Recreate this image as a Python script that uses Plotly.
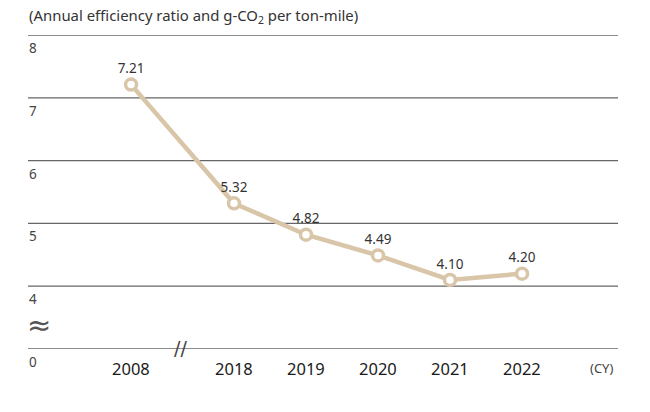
import plotly.graph_objects as go

years = ["2008", "2018", "2019", "2020", "2021", "2022"]
x_pos = [-1.43, 0, 1, 2, 3, 4]
values = [7.21, 5.32, 4.82, 4.49, 4.10, 4.20]
value_labels = ["7.21", "5.32", "4.82", "4.49", "4.10", "4.20"]
ytick_pos = [3, 4, 5, 6, 7, 8]
ytick_labels = ["0", "4", "5", "6", "7", "8"]

FONT = "'Noto Sans', 'Open Sans', sans-serif"
TAN = "#d9c5a8"

fig = go.Figure()
fig.add_trace(go.Scatter(
    x=x_pos, y=values, mode="lines+markers+text",
    line=dict(color=TAN, width=4.5),
    marker=dict(size=11, color="white", line=dict(color=TAN, width=3.5)),
    text=value_labels, textposition="top center",
    textfont=dict(family=FONT, size=13.5, color="#333"),
    cliponaxis=False, hoverinfo="skip",
))

shapes = []
for p in ytick_pos:
    shapes.append(dict(type="line", xref="paper", x0=0, x1=1, yref="y", y0=p, y1=p,
                       line=dict(color="#666", width=1.3), layer="below"))

ann = []
for p, t in zip(ytick_pos, ytick_labels):
    ann.append(dict(x=0, xref="paper", y=p, yref="y", text=t, showarrow=False,
                    xanchor="left", yanchor="top", yshift=-2, xshift=-1,
                    font=dict(family=FONT, size=13.5, color="#444")))
for xp, yr in zip(x_pos, years):
    ann.append(dict(x=xp, xref="x", y=3, yref="y", text=yr, showarrow=False,
                    xanchor="center", yanchor="top", yshift=-6,
                    font=dict(family=FONT, size=16.5, color="#1a1a1a")))
ann.append(dict(x=5.1, xref="x", y=3, yref="y", text="(CY)", showarrow=False,
                xanchor="center", yanchor="top", yshift=-8,
                font=dict(family=FONT, size=13, color="#444")))
ann.append(dict(x=0, xref="paper", y=1, yref="paper",
                text="(Annual efficiency ratio and g-CO<sub>2</sub> per ton-mile)",
                showarrow=False, xanchor="left", yanchor="bottom", yshift=6, xshift=-1,
                font=dict(family=FONT, size=14.9, color="#333")))
ann.append(dict(x=0, xref="paper", y=3.38, yref="y", text="≈", showarrow=False,
                xanchor="left", yanchor="middle", xshift=-3,
                font=dict(family="DejaVu Sans", size=29, color="#555")))
ann.append(dict(x=-0.75, xref="x", y=3, yref="y", text="//", showarrow=False,
                xanchor="center", yanchor="middle", yshift=1,
                font=dict(family="DejaVu Sans", size=19, color="#444")))

fig.update_layout(
    width=650, height=412,
    margin=dict(l=28, r=32, t=35, b=63),
    paper_bgcolor="white", plot_bgcolor="white",
    showlegend=False,
    xaxis=dict(range=[-2.861, 5.333], showgrid=False, zeroline=False,
               showticklabels=False, showline=False, fixedrange=True),
    yaxis=dict(range=[3, 8], showticklabels=False, showgrid=False,
               zeroline=False, showline=False, fixedrange=True),
    shapes=shapes,
    annotations=ann,
)
fig.write_html("out.html")
